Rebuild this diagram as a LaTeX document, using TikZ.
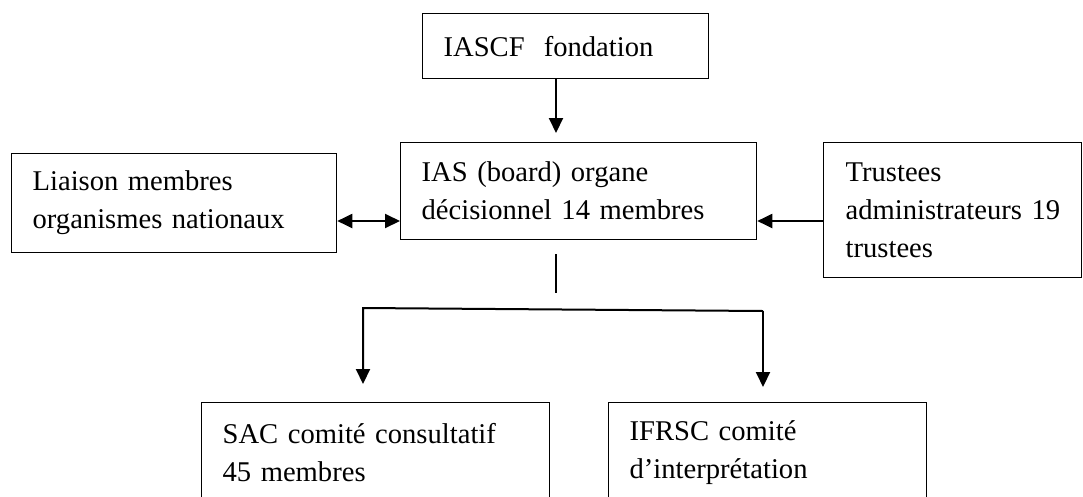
\documentclass[tikz,border=0pt]{standalone}
\usepackage{fontspec}
\setmainfont{Liberation Serif}
\usetikzlibrary{arrows.meta}
\begin{document}
\begin{tikzpicture}[x=1pt,y=-1pt,
  box/.style={draw, line width=1.3pt, anchor=north west, align=left,
    inner xsep=21pt, inner ysep=0pt,
    font=\fontsize{28.6}{38}\selectfont},
  arrow/.style={line width=2pt, -{Triangle[length=15pt,width=14pt]}},
  darrow/.style={line width=2pt, {Triangle[length=15pt,width=14pt]}-{Triangle[length=15pt,width=14pt]}},
  thin line/.style={line width=1.3pt}]
\useasboundingbox (0,0) rectangle (1083,496);
\fill[white] (0,0) rectangle (1083,496);
\clip (0,0) rectangle (1083,496);

\node[box, text width=244pt, minimum height=65pt] (top) at (422,13) {IASCF\ \ fondation};
\node[box, text width=283pt, minimum height=99pt] (liaison) at (11,153) {Liaison membres\\organismes nationaux};
\node[box, text width=314pt, minimum height=97pt] (ias) at (400,142) {IAS (board) organe\\décisionnel 14 membres};
\node[box, text width=258pt, minimum height=135pt, inner xsep=0pt] (trust) at (823,142) {\hspace*{22pt}\parbox[t]{230pt}{Trustees\\administrateurs~19\\trustees}};
\node[box, text width=306pt, minimum height=100pt] (sac) at (201,402) {SAC comité consultatif\\45 membres};
\node[box, text width=276pt, minimum height=100pt] (ifrsc) at (608,402) {IFRSC comité\\d’interprétation};

\coordinate (spine) at (556,300);
\coordinate (midy) at (0,221);
\coordinate (jn) at (556,293);
\coordinate (lt) at (363,308);
\coordinate (rt) at (763,311);

\draw[arrow, shorten >=9pt] (top.south -| spine) -- (ias.north -| spine);
\draw[darrow] (liaison.east |- midy) -- (ias.west |- midy);
\draw[arrow] (trust.west |- midy) -- (ias.east |- midy);
\draw[thin line, shorten <=14pt] (ias.south -| spine) -- (jn);
\draw[arrow, shorten >=18pt] (rt) -- (lt) -- (lt |- sac.north);
\draw[arrow, shorten >=15pt] (rt) -- (rt |- ifrsc.north);
\end{tikzpicture}
\end{document}
